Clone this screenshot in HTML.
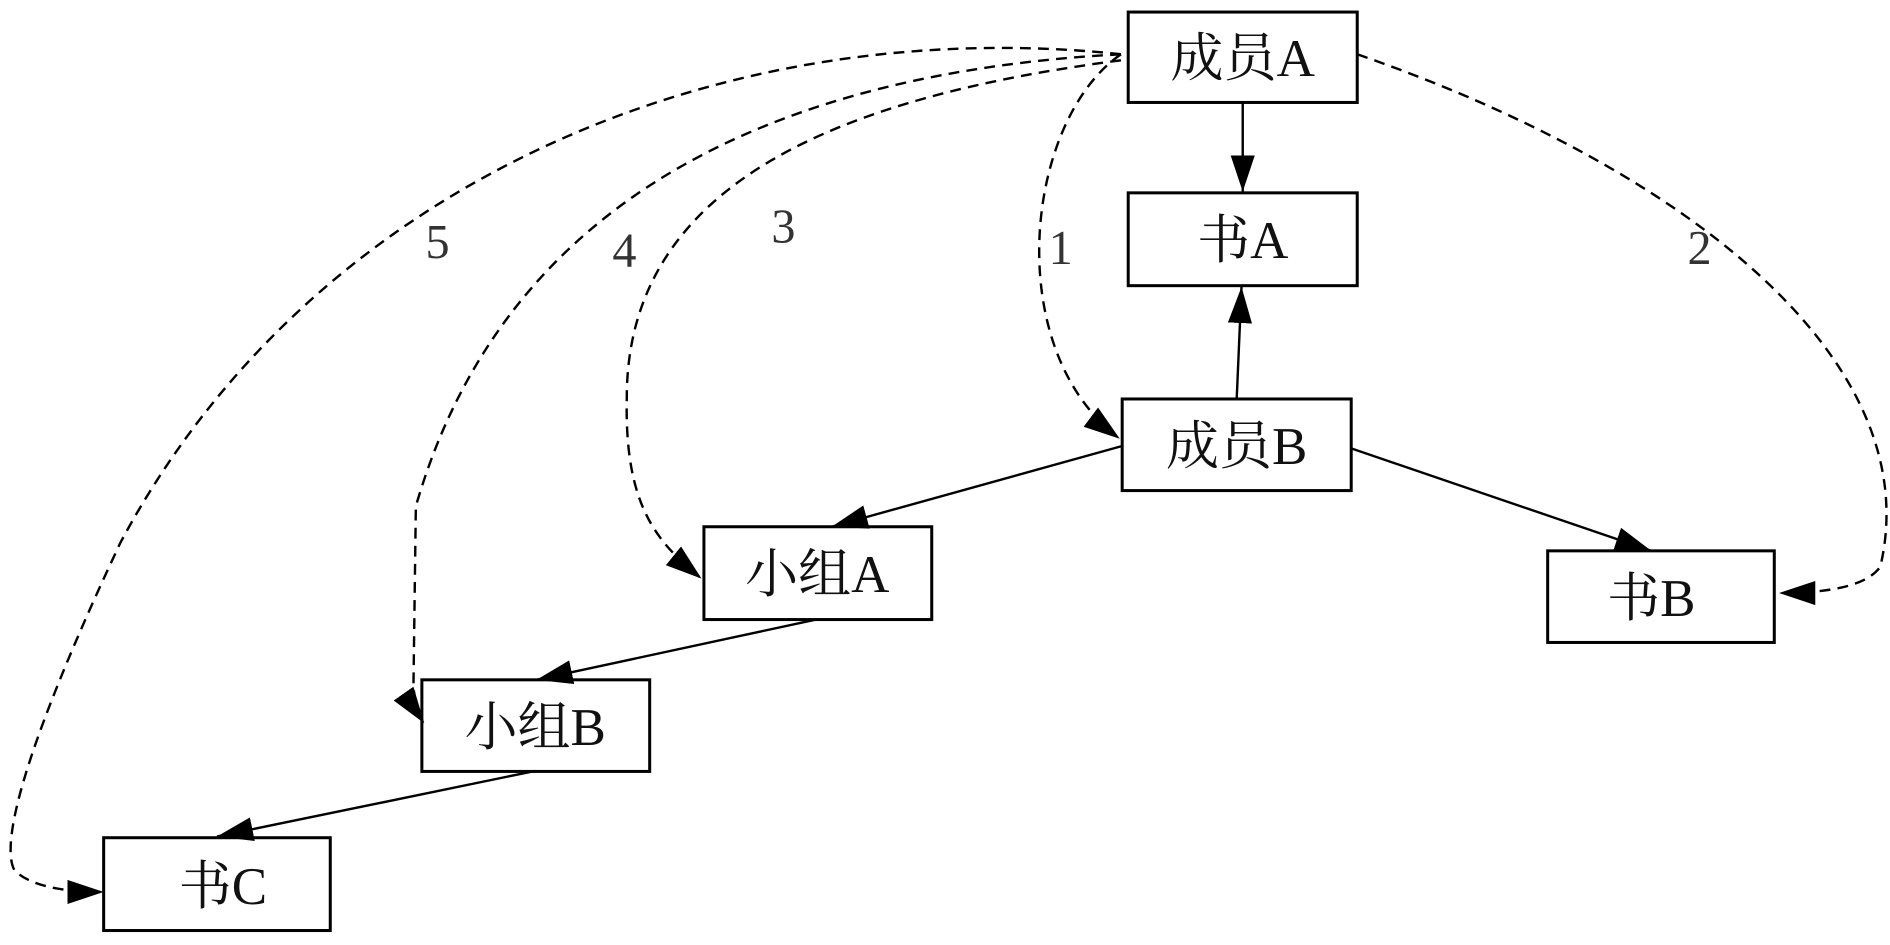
<!DOCTYPE html>
<html><head><meta charset="utf-8"><style>
html,body{margin:0;padding:0;background:#fff;}
svg{display:block;}
text{font-family:"Liberation Serif","Noto Serif CJK SC",serif;}
</style></head><body>
<svg width="1890" height="945" viewBox="0 0 1568 784" preserveAspectRatio="none" xmlns="http://www.w3.org/2000/svg">
<defs>
<marker id="a" viewBox="0 0 30 20" refX="30" refY="10" markerWidth="30" markerHeight="20" markerUnits="userSpaceOnUse" orient="auto">
<path d="M0,0 L30,10 L0,20 z" fill="#000"/></marker>
</defs>
<g fill="#fff" stroke="#000" stroke-width="2.5">
<rect x="936" y="10" width="190" height="75"/>
<rect x="936" y="160" width="190" height="77"/>
<rect x="931" y="331" width="190" height="76"/>
<rect x="584" y="437" width="189" height="77"/>
<rect x="1284" y="457" width="188" height="76"/>
<rect x="350" y="564" width="189" height="76"/>
<rect x="86" y="695" width="188" height="77"/>
</g>
<g stroke="#000" stroke-width="2" fill="none" marker-end="url(#a)">
<line x1="1031" y1="85" x2="1031" y2="159"/>
<line x1="1026" y1="331" x2="1030" y2="238"/>
<line x1="931" y1="370" x2="690" y2="437"/>
<line x1="1121" y1="372" x2="1370" y2="457"/>
<line x1="677" y1="514" x2="445" y2="564"/>
<line x1="442" y1="640" x2="180" y2="694"/>
</g>
<g stroke="#000" stroke-width="2" fill="none" stroke-dasharray="9,6" marker-end="url(#a)">
<path d="M930,45 C850,100 830,290 929,364"/>
<path d="M1126,45 C1400,140 1600,300 1560,470 Q1545,492 1476,492"/>
<path d="M930,50 C700,80 520,150 520,330 C518,420 545,450 582,480"/>
<path d="M930,45 C650,60 420,160 345,420 L343,570 Q345,590 352,600"/>
<path d="M930,45 C600,10 260,150 100,450 C20,620 0,700 12,722 Q30,740 86,740"/>
</g>
<g font-size="44" text-anchor="middle" fill="#111">
<text x="1031" y="63">成员A</text>
<text x="1031" y="214">书A</text>
<text x="1026" y="385">成员B</text>
<text x="678" y="491">小组A</text>
<text x="1370" y="511">书B</text>
<text x="444" y="618">小组B</text>
<text x="185" y="750">书C</text>
</g>
<g font-size="40" text-anchor="middle" fill="#333">
<text x="363" y="214">5</text>
<text x="518" y="221">4</text>
<text x="650" y="201">3</text>
<text x="880" y="219">1</text>
<text x="1410" y="219">2</text>
</g>
</svg>
</body></html>
